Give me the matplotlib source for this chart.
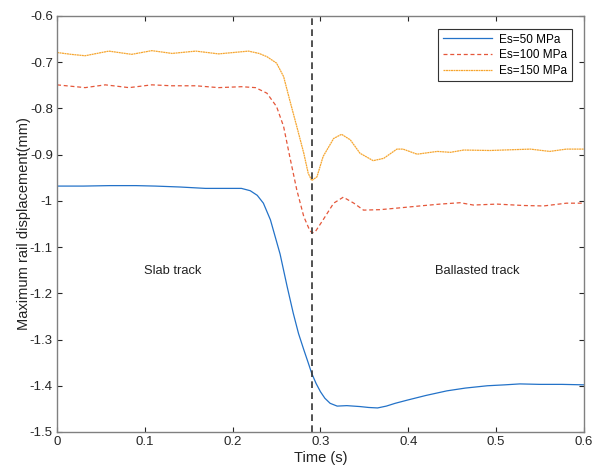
import matplotlib
matplotlib.use("Agg")
import matplotlib.pyplot as plt
from matplotlib.ticker import FuncFormatter

plt.rcParams['font.family'] = ['Liberation Sans', 'DejaVu Sans']
plt.rcParams['font.size'] = 8

# ---- data ----
t_50 = [0.000, 0.030, 0.060, 0.090, 0.112, 0.140, 0.169, 0.190, 0.210, 0.220,
        0.228, 0.235, 0.243, 0.254, 0.262, 0.269, 0.275, 0.281, 0.286, 0.290,
        0.295, 0.300, 0.305, 0.311, 0.319, 0.330, 0.345, 0.355, 0.365, 0.375,
        0.385, 0.399, 0.420, 0.444, 0.465, 0.490, 0.510, 0.527, 0.550, 0.575, 0.600]
v_50 = [-0.968, -0.968, -0.967, -0.967, -0.968, -0.970, -0.973, -0.973, -0.973, -0.978,
        -0.988, -1.005, -1.041, -1.115, -1.185, -1.243, -1.287, -1.322, -1.350, -1.373,
        -1.395, -1.413, -1.427, -1.438, -1.444, -1.443, -1.445, -1.447, -1.448, -1.444,
        -1.438, -1.431, -1.421, -1.411, -1.405, -1.400, -1.398, -1.396, -1.397, -1.397, -1.398]

t_100 = [0.000, 0.016, 0.032, 0.055, 0.082, 0.108, 0.131, 0.158, 0.184, 0.210,
         0.226, 0.239, 0.250, 0.258, 0.265, 0.273, 0.281, 0.288, 0.291, 0.294,
         0.303, 0.315, 0.326, 0.338, 0.349, 0.368, 0.391, 0.413, 0.436, 0.459,
         0.474, 0.501, 0.531, 0.554, 0.580, 0.600]
v_100 = [-0.749, -0.752, -0.755, -0.749, -0.755, -0.749, -0.751, -0.751, -0.755, -0.753,
         -0.755, -0.767, -0.796, -0.839, -0.904, -0.976, -1.034, -1.065, -1.069, -1.067,
         -1.041, -1.005, -0.992, -1.005, -1.020, -1.019, -1.015, -1.011, -1.007, -1.004,
         -1.009, -1.007, -1.010, -1.011, -1.005, -1.005]

t_150 = [0.000, 0.016, 0.032, 0.059, 0.085, 0.108, 0.131, 0.158, 0.184, 0.218,
         0.230, 0.239, 0.250, 0.258, 0.265, 0.273, 0.281, 0.286, 0.290, 0.296,
         0.303, 0.315, 0.324, 0.334, 0.345, 0.360, 0.372, 0.387, 0.394, 0.410,
         0.433, 0.448, 0.463, 0.493, 0.539, 0.561, 0.580, 0.600]
v_150 = [-0.679, -0.683, -0.686, -0.676, -0.683, -0.675, -0.681, -0.676, -0.682, -0.676,
         -0.681, -0.688, -0.702, -0.731, -0.782, -0.839, -0.897, -0.940, -0.956, -0.948,
         -0.904, -0.865, -0.856, -0.868, -0.897, -0.913, -0.908, -0.888, -0.888, -0.899,
         -0.893, -0.895, -0.890, -0.891, -0.888, -0.893, -0.888, -0.888]

labels = ['Es=50 MPa', 'Es=100 MPa', 'Es=150 MPa']
transition_t = 0.29
xticks = [0, 0.1, 0.2, 0.3, 0.4, 0.5, 0.6]
yticks = [-0.6, -0.7, -0.8, -0.9, -1.0, -1.1, -1.2, -1.3, -1.4, -1.5]

# ---- figure ----
fig = plt.figure(figsize=(6.02, 4.66), dpi=100)
ax = fig.add_axes([0.0947, 0.073, 0.8753, 0.8927])

ax.plot(t_50, v_50, color='#2372c8', lw=0.9, label=labels[0])
ax.plot(t_100, v_100, color='#e5573a', lw=0.9, ls=(0, (3.2, 2.2)), label=labels[1])
ax.plot(t_150, v_150, color='#f6a630', lw=0.9, ls=(0, (1.6, 0.4)), label=labels[2])
ax.axvline(transition_t, color='#333333', lw=1.2, ls=(0, (4, 2.6)))

ax.text(0.132, -1.152, 'Slab track', ha='center', va='center', fontsize=9.3, color='#222222')
ax.text(0.478, -1.152, 'Ballasted track', ha='center', va='center', fontsize=9.3, color='#222222')

ax.set_xlim(0, 0.6)
ax.set_ylim(-1.5, -0.6)
ax.set_xticks(xticks)
ax.set_yticks(yticks)
fmt = FuncFormatter(lambda v, p: ('%g' % round(v, 3)))
ax.xaxis.set_major_formatter(fmt)
ax.yaxis.set_major_formatter(fmt)
ax.tick_params(direction='in', top=True, right=True, length=3.5, width=0.8,
               colors='#262626', labelsize=9.5, pad=3)
for s in ax.spines.values():
    s.set_color('#808080')
    s.set_linewidth(1.0)

ax.set_xlabel('Time (s)', fontsize=10.5, labelpad=2, color='#222222')
ax.set_ylabel('Maximum rail displacement(mm)', fontsize=10.5, labelpad=-1, color='#222222')

leg = ax.legend(loc='upper right', bbox_to_anchor=(0.977, 0.969), fontsize=8.5,
                frameon=True, fancybox=False, edgecolor='#333333', framealpha=1,
                handlelength=4.15, borderpad=0.4, labelspacing=0.3, handletextpad=0.6,
                borderaxespad=0)
leg.get_frame().set_linewidth(0.8)

fig.savefig('out.png', dpi=100)
